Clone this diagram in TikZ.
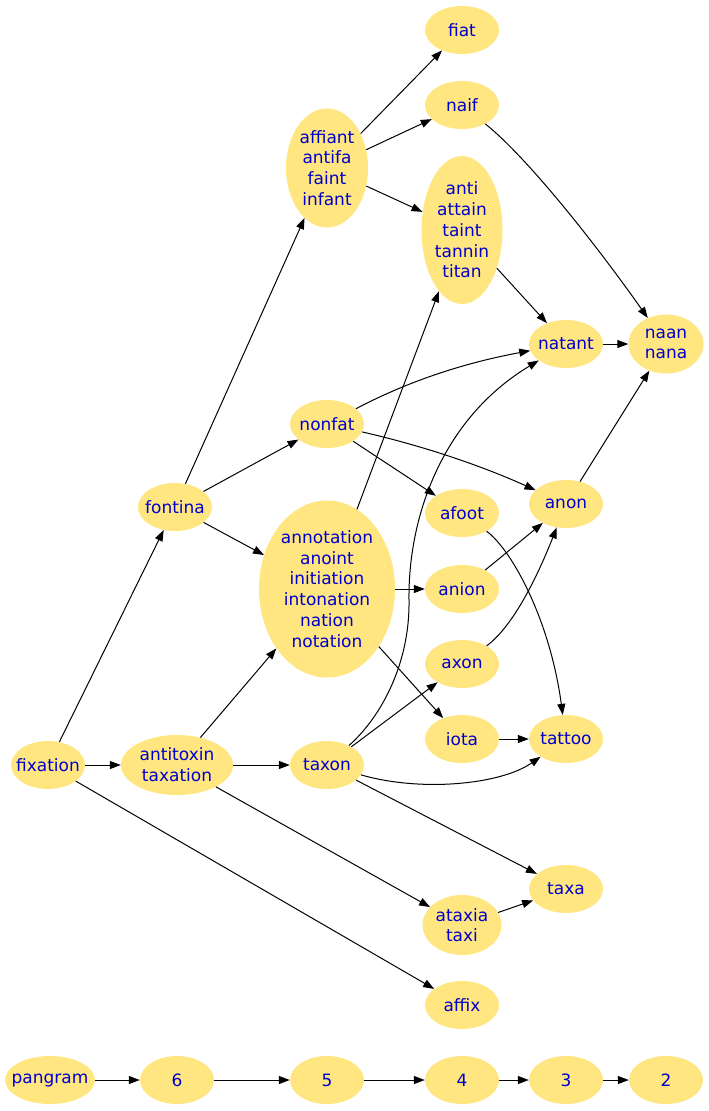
\documentclass[tikz,border=0pt]{standalone}
\usepackage{fontspec}
\setmainfont{DejaVu Sans}
\usetikzlibrary{shapes.geometric,arrows.meta}
\definecolor{wordfill}{RGB}{255,230,128}
\definecolor{wordtext}{RGB}{0,0,205}
\tikzset{
  word/.style={ellipse, fill=wordfill, text=wordtext, inner xsep=-10pt,
    inner ysep=0pt, minimum width=74pt, minimum height=48pt, align=center,
    font={\fontsize{17pt}{20.7pt}\selectfont}},
  link/.style={-{Triangle[length=11pt,width=8pt]}, line width=1pt}
}
\begin{document}
\begin{tikzpicture}[x=1pt,y=-1pt]
\useasboundingbox (0,0) rectangle (709,1111);
% word nodes
\node[word] (fiat) at (462,30) {fiat};
\node[word] (naif) at (462,105) {naif};
\node[word, minimum width=82pt, minimum height=119pt] (affiant) at (327,168) {affiant\\antifa\\faint\\infant};
\node[word, minimum width=81pt, minimum height=148pt] (anti) at (462,230) {anti\\attain\\taint\\tannin\\titan};
\node[word] (natant) at (566,344) {natant};
\node[word, minimum width=75pt, minimum height=59pt] (naan) at (666,344) {naan\\nana};
\node[word] (nonfat) at (327,424) {nonfat};
\node[word] (fontina) at (175,507) {fontina};
\node[word] (afoot) at (462,513) {afoot};
\node[word] (anon) at (566,504) {anon};
\node[word, minimum width=136pt, minimum height=177pt] (annotation) at (327,589) {annotation\\anoint\\initiation\\intonation\\nation\\notation};
\node[word] (anion) at (462,589) {anion};
\node[word] (axon) at (462,664) {axon};
\node[word] (iota) at (462,739) {iota};
\node[word] (tattoo) at (566,739) {tattoo};
\node[word] (fixation) at (48,765) {fixation};
\node[word, minimum width=112pt, minimum height=60pt] (antitoxin) at (177,765) {antitoxin\\taxation};
\node[word] (taxon) at (327,765) {taxon};
\node[word] (taxa) at (566,889) {taxa};
\node[word, minimum width=79pt, minimum height=60pt] (ataxia) at (462,925) {ataxia\\taxi};
\node[word] (affix) at (462,1005) {affix};
% chain at the bottom
\node[word, minimum width=90pt] (pangram) at (50,1080) {pangram};
\node[word] (n6) at (177,1080) {6};
\node[word] (n5) at (327,1080) {5};
\node[word] (n4) at (462,1080) {4};
\node[word] (n3) at (566,1080) {3};
\node[word] (n2) at (666,1080) {2};
% straight links
\foreach \a/\b in {fixation/antitoxin, fixation/fontina, fixation/affix,
  fontina/affiant, fontina/nonfat, fontina/annotation,
  antitoxin/annotation, antitoxin/taxon, antitoxin/ataxia,
  affiant/fiat, affiant/naif, affiant/anti, anti/natant, natant/naan,
  anon/naan, nonfat/afoot, annotation/anion, annotation/iota,
  annotation/anti, anion/anon, iota/tattoo, taxon/axon, taxon/taxa,
  ataxia/taxa, pangram/n6, n6/n5, n5/n4, n4/n3, n3/n2}
  \draw[link] (\a) -- (\b);
% curved links
\draw[link] (naif) .. controls (530,160) and (600,250) .. (naan);
\draw[link] (nonfat) .. controls (420,375) and (480,360) .. (natant);
\draw[link] (nonfat) .. controls (420,445) and (480,465) .. (anon);
\draw[link] (afoot) .. controls (512,550) and (550,620) .. (tattoo);
\draw[link] (axon) .. controls (515,625) and (540,570) .. (anon);
\draw[link] (taxon) .. controls (380,718) and (410,665) .. (409,600)
  .. controls (408,520) and (440,420) .. (natant);
\draw[link] (taxon) .. controls (420,792) and (500,785) .. (tattoo);
\end{tikzpicture}
\end{document}
